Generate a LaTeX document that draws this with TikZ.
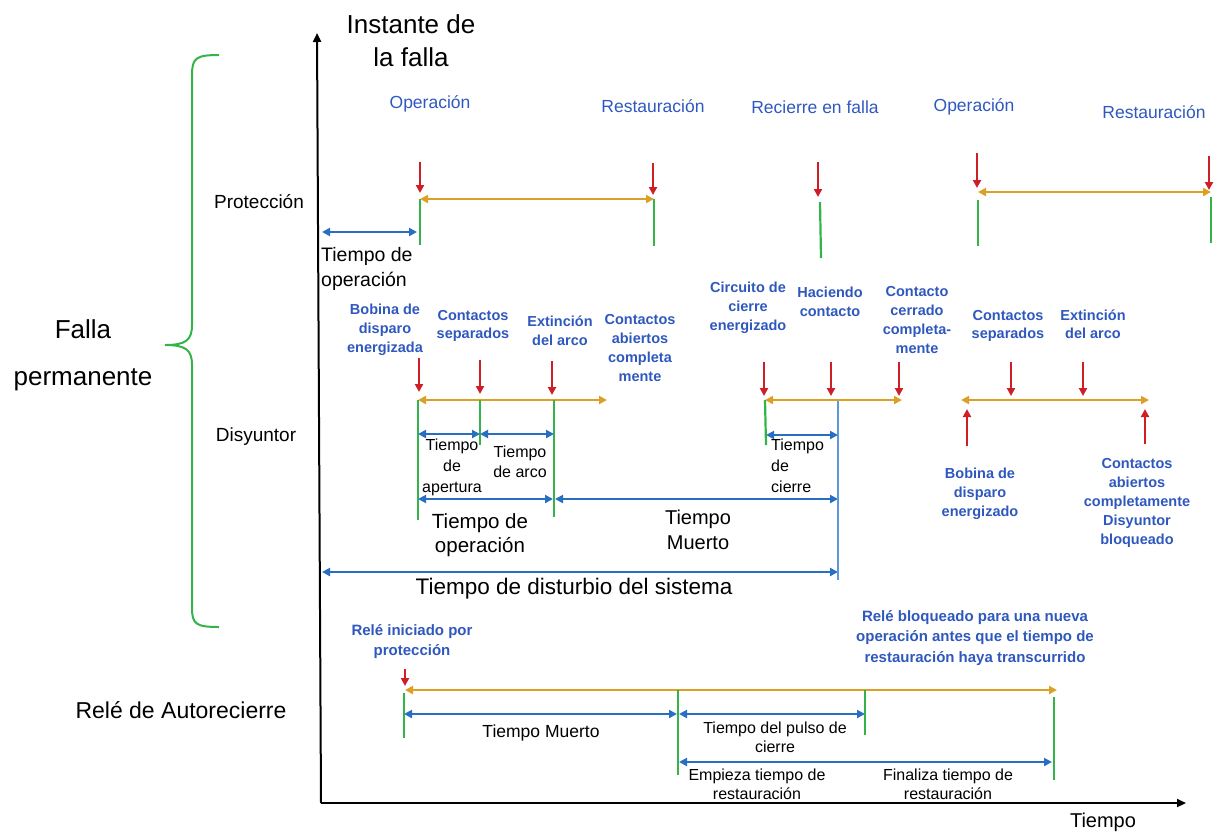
\documentclass[tikz,border=0pt]{standalone}
\usepackage{fontspec}
\setmainfont{Liberation Sans}
\usetikzlibrary{arrows.meta,calc}
\definecolor{txtblue}{RGB}{47,88,190}
\definecolor{arrred}{RGB}{206,30,38}
\definecolor{arrorange}{RGB}{222,160,36}
\definecolor{tickgreen}{RGB}{52,180,72}
\definecolor{spanblue}{RGB}{40,110,195}
\definecolor{lightblue}{RGB}{90,155,215}
\newcommand{\fsz}[2]{\fontsize{#1}{#2}\selectfont}
\tikzset{
  blacktxt/.style={text=black, align=center, inner sep=1pt},
  toptxt/.style={text=txtblue, inner sep=1pt, font=\fsz{17.5}{21}},
  smalltxt/.style={text=txtblue, align=center, inner sep=1pt, font=\bfseries\fsz{14.5}{19}},
  redarrow/.style={draw=arrred, line width=2pt, -{Triangle[length=8pt,width=8pt]}},
  orangespan/.style={draw=arrorange, line width=2.2pt, {Triangle[length=8pt,width=8pt]}-{Triangle[length=8pt,width=8pt]}},
  greentick/.style={draw=tickgreen, line width=2.2pt},
  bluespan/.style={draw=spanblue, line width=2pt, {Triangle[length=8pt,width=8pt]}-{Triangle[length=8pt,width=8pt]}},
  axisline/.style={draw=black, line width=2pt, -{Triangle[length=9pt,width=8pt]}},
}
\begin{document}
\begin{tikzpicture}[x=1pt,y=-1pt]
\useasboundingbox (0,0) rectangle (1217,831);

% axes
\coordinate (origin) at (321,803);
\coordinate (ytop) at (317,33);
\coordinate (xend) at (1186,803);
\draw[axisline] (origin) -- (ytop);
\draw[axisline] (origin) -- (xend);
\node[blacktxt, font=\fsz{26}{33}] (instante) at (411,41) {Instante de\\la falla};
\node[blacktxt, font=\fsz{20}{24}] (tiempoax) at (1103,822) {Tiempo};

% brace grouping the protection and breaker rows
\draw[tickgreen, line width=2pt]
  (219,55) .. controls (196,55) and (192,58) .. (192,75) -- (192,325)
  .. controls (192,340) and (186,345) .. (165,345)
  .. controls (186,345) and (192,350) .. (192,365) -- (192,608)
  .. controls (192,624) and (196,627) .. (219,627);

% row labels
\node[blacktxt, font=\fsz{26}{47}] (falla) at (83,355) {Falla\\permanente};
\node[blacktxt, font=\fsz{19}{23}] (proteccion) at (259,202) {Protección};
\node[blacktxt, font=\fsz{19}{23}] (disyuntor) at (256,437) {Disyuntor};
\node[blacktxt, font=\fsz{23}{27}] (rele) at (181,710) {Relé de Autorecierre};

% ---------------- protection row ----------------
\node[toptxt] (op1) at (430,104) {Operación};
\node[toptxt] (rest1) at (653,106) {Restauración};
\node[toptxt] (recierre) at (815,107) {Recierre en falla};
\node[toptxt] (op2) at (974,107) {Operación};
\node[toptxt] (rest2) at (1154,112) {Restauración};

\coordinate (pa) at (420,199);  \coordinate (pa-low) at (420,245);
\coordinate (pb) at (654,199);  \coordinate (pb-low) at (654,246);
\coordinate (pc) at (820,202);  \coordinate (pc-low) at (821,258);
\coordinate (pd) at (978,192);  \coordinate (pd-low) at (978,246);
\coordinate (pe) at (1211,192); \coordinate (pe-low) at (1211,243);

\coordinate (ra-t) at (420,162);  \coordinate (ra-b) at (420,193);
\coordinate (rb-t) at (653,163);  \coordinate (rb-b) at (653,195);
\coordinate (rc-t) at (818,162);  \coordinate (rc-b) at (818,197);
\coordinate (rd-t) at (977,153);  \coordinate (rd-b) at (977,188);
\coordinate (re-t) at (1209,156); \coordinate (re-b) at (1209,190);
\foreach \r in {ra,rb,rc,rd,re} \draw[redarrow] (\r-t) -- (\r-b);

\draw[orangespan] (pa) -- (pb);
\draw[orangespan] (pd) -- (pe);
\draw[greentick] (pa) -- (pa-low);
\draw[greentick] (pb) -- (pb-low);
\draw[greentick] (pc) -- (pc-low);
\draw[greentick] ($(pd)+(0,8)$) -- (pd-low);
\draw[greentick] ($(pe)+(0,5)$) -- (pe-low);

\coordinate (opleft) at (322,232); \coordinate (opright) at (417,232);
\draw[bluespan] (opleft) -- (opright);
\node[blacktxt, align=left, anchor=west, font=\fsz{19.5}{25}] (toper1) at (320,269) {Tiempo de\\operación};

% ---------------- breaker row, opening ----------------
\node[smalltxt] (bobina1) at (385,330) {Bobina de\\disparo\\energizada};
\node[smalltxt, font=\bfseries\fsz{14.5}{18}] (sep1) at (473,326) {Contactos\\separados};
\node[smalltxt] (ext1) at (560,331) {Extinción\\del arco};
\node[smalltxt] (abiertos1) at (640,348) {Contactos\\abiertos\\completa\\mente};

\coordinate (d1) at (418,400); \coordinate (d1-low) at (418,520);
\coordinate (d2) at (480,400); \coordinate (d2-low) at (480,445);
\coordinate (d3) at (554,400); \coordinate (d3-low) at (554,517);
\coordinate (d4) at (607,400);
\coordinate (rf-t) at (419,358); \coordinate (rf-b) at (419,392);
\coordinate (rg-t) at (480,360); \coordinate (rg-b) at (480,394);
\coordinate (rh-t) at (552,361); \coordinate (rh-b) at (552,395);
\foreach \r in {rf,rg,rh} \draw[redarrow] (\r-t) -- (\r-b);
\draw[orangespan] (d1) -- (d4);
\draw[greentick] (d1) -- (d1-low);
\draw[greentick] (d2) -- (d2-low);
\draw[greentick] (d3) -- (d3-low);

\coordinate (ap-l) at (418,434); \coordinate (ap-m) at (480,434); \coordinate (ap-r) at (554,434);
\draw[bluespan] (ap-l) -- (ap-m);
\draw[bluespan] (ap-m) -- (ap-r);
\node[blacktxt, font=\fsz{16}{21}] (tapert) at (452,467) {Tiempo\\de\\apertura};
\node[blacktxt, font=\fsz{16}{20}] (tarco) at (520,462) {Tiempo\\de arco};

\coordinate (to-l) at (418,499); \coordinate (to-r) at (553,499);
\coordinate (tm-l) at (555,499); \coordinate (tm-r) at (838,499);
\draw[bluespan] (to-l) -- (to-r);
\draw[bluespan] (tm-l) -- (tm-r);
\node[blacktxt, font=\fsz{20.5}{24}] (toper2) at (480,535) {Tiempo de\\operación};
\node[blacktxt, font=\fsz{20}{25}] (tmuerto1) at (698,530) {Tiempo\\Muerto};

\coordinate (ds-l) at (322,572); \coordinate (ds-r) at (838,572);
\draw[bluespan] (ds-l) -- (ds-r);
\node[blacktxt, font=\fsz{22.5}{26}] (disturbio) at (574,589) {Tiempo de disturbio del sistema};

% ---------------- breaker row, reclosing ----------------
\node[smalltxt] (circuito) at (748,308) {Circuito de\\cierre\\energizado};
\node[smalltxt] (haciendo) at (830,302) {Haciendo\\contacto};
\node[smalltxt] (cerrado) at (917,320) {Contacto\\cerrado\\completa-\\mente};

\coordinate (c1) at (765,400); \coordinate (c1-low) at (766,445);
\coordinate (c2) at (902,400);
\coordinate (lb-t) at (838,400); \coordinate (lb-b) at (838,580);
\coordinate (ri-t) at (764,362); \coordinate (ri-b) at (764,396);
\coordinate (rj-t) at (831,362); \coordinate (rj-b) at (831,396);
\coordinate (rk-t) at (899,362); \coordinate (rk-b) at (899,396);
\foreach \r in {ri,rj,rk} \draw[redarrow] (\r-t) -- (\r-b);
\draw[draw=lightblue, line width=1.6pt] (lb-t) -- (lb-b);
\draw[orangespan] (c1) -- (c2);
\draw[greentick] (c1) -- (c1-low);
\coordinate (tc-l) at (766,435); \coordinate (tc-r) at (838,435);
\draw[bluespan] (tc-l) -- (tc-r);
\node[blacktxt, align=left, anchor=west, font=\fsz{16}{21}] (tcierre) at (770,466) {Tiempo\\de\\cierre};

% ---------------- breaker row, final opening ----------------
\node[smalltxt, font=\bfseries\fsz{14.5}{18}] (sep2) at (1008,326) {Contactos\\separados};
\node[smalltxt, font=\bfseries\fsz{14.5}{18}] (ext2) at (1093,324) {Extinción\\del arco};
\coordinate (f1) at (961,400); \coordinate (f2) at (1149,400);
\draw[orangespan] (f1) -- (f2);
\coordinate (rl-t) at (1011,362); \coordinate (rl-b) at (1011,396);
\coordinate (rm-t) at (1083,362); \coordinate (rm-b) at (1083,396);
\coordinate (rn-t) at (967,446);  \coordinate (rn-b) at (967,409);
\coordinate (ro-t) at (1145,444); \coordinate (ro-b) at (1145,409);
\foreach \r in {rl,rm,rn,ro} \draw[redarrow] (\r-t) -- (\r-b);
\node[smalltxt, font=\bfseries\fsz{14.5}{19}] (bobina2) at (980,494) {Bobina de\\disparo\\energizado};
\node[smalltxt] (bloqueado) at (1137,503) {Contactos\\abiertos\\completamente\\Disyuntor\\bloqueado};

% ---------------- reclosing relay row ----------------
\node[smalltxt, font=\bfseries\fsz{15}{20}] (iniciado) at (412,642) {Relé iniciado por\\protección};
\node[smalltxt, font=\bfseries\fsz{15}{20.5}] (bloqrele) at (975,638) {Relé bloqueado para una nueva\\operación antes que el tiempo de\\restauración haya transcurrido};
\coordinate (rp-t) at (405,669); \coordinate (rp-b) at (405,686);
\draw[redarrow] (rp-t) -- (rp-b);

\coordinate (q1) at (405,690); \coordinate (q2) at (1057,690);
\draw[orangespan] (q1) -- (q2);
\coordinate (g1) at (404,693); \coordinate (g1-low) at (404,738);
\coordinate (g2) at (678,690); \coordinate (g2-low) at (678,775);
\coordinate (g3) at (865,690); \coordinate (g3-low) at (865,735);
\coordinate (g4) at (1054,697); \coordinate (g4-low) at (1054,780);
\draw[greentick] (g1) -- (g1-low);
\draw[greentick] (g2) -- (g2-low);
\draw[greentick] (g3) -- (g3-low);
\draw[greentick] (g4) -- (g4-low);

\coordinate (m-l) at (404,714); \coordinate (m-r) at (677,714);
\coordinate (p-l) at (679,714); \coordinate (p-r) at (865,714);
\coordinate (s-l) at (679,762); \coordinate (s-r) at (1052,762);
\draw[bluespan] (m-l) -- (m-r);
\draw[bluespan] (p-l) -- (p-r);
\draw[bluespan] (s-l) -- (s-r);
\node[blacktxt, font=\fsz{17.5}{21}] (tmuerto2) at (541,733) {Tiempo Muerto};
\node[blacktxt, font=\fsz{16}{19}] (pulso) at (775,737) {Tiempo del pulso de\\cierre};
\node[blacktxt, font=\fsz{16}{19}] (empieza) at (757,784) {Empieza tiempo de\\restauración};
\node[blacktxt, font=\fsz{16}{19}] (finaliza) at (948,784) {Finaliza tiempo de\\restauración};
\end{tikzpicture}
\end{document}
